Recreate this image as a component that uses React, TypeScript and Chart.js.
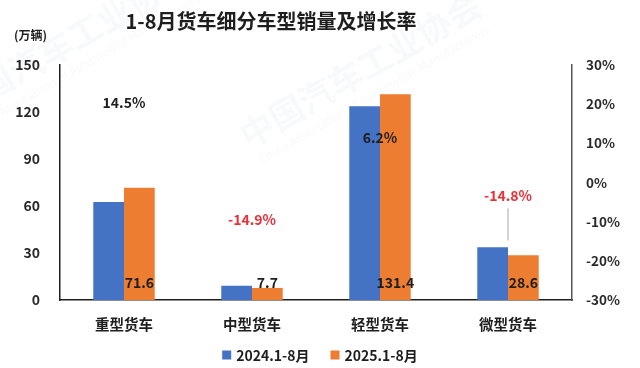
import React, { useEffect, useRef } from "react";
import { Chart, registerables } from "chart.js";

Chart.register(...registerables);

const categories = ["重型货车", "中型货车", "轻型货车", "微型货车"];
const series2024Label = "2024.1-8月";
const series2025Label = "2025.1-8月";
const sales2024 = [62.5, 9.1, 123.7, 33.6];
const sales2025 = [71.6, 7.7, 131.4, 28.6];
const growthRates = [14.5, -14.9, 6.2, -14.8];
const titleText = "1-8月货车细分车型销量及增长率";
const unitText = "(万辆)";

const FONT = '"Noto Sans CJK SC", "Liberation Sans", sans-serif';
const BLUE = "#4472C4";
const ORANGE = "#ED7D31";
const RED = "#E8303A";
const DARK = "#1e1e1e";

const overlayPlugin = {
  id: "overlay",
  beforeDraw(chart: any) {
    const ctx = chart.ctx;
    ctx.save();
    ctx.fillStyle = "#ffffff";
    ctx.fillRect(0, 0, chart.width, chart.height);
    // faint watermark
    ctx.fillStyle = "rgba(120,130,150,0.05)";
    ctx.textAlign = "center";
    ctx.textBaseline = "middle";
    const marks = [
      [70, 40],
      [360, 70],
    ];
    marks.forEach(([x, y]) => {
      ctx.save();
      ctx.translate(x, y);
      ctx.rotate(-Math.PI / 6);
      ctx.font = `bold 34px ${FONT}`;
      ctx.fillText("中国汽车工业协会", 0, 0);
      ctx.font = `12px ${FONT}`;
      ctx.fillText("China Association of Automobile Manufacturers", 0, 28);
      ctx.restore();
    });
    ctx.restore();
  },
  afterDraw(chart: any) {
    const ctx = chart.ctx;
    ctx.save();
    // title
    ctx.fillStyle = DARK;
    ctx.font = `bold 20px ${FONT}`;
    ctx.textAlign = "center";
    ctx.textBaseline = "middle";
    ctx.fillText(titleText, 271, 21);
    // unit
    ctx.font = `bold 12px ${FONT}`;
    ctx.textAlign = "left";
    ctx.fillText(unitText, 14, 35);

    // legend
    const items = [
      { label: series2024Label, color: BLUE },
      { label: series2025Label, color: ORANGE },
    ];
    ctx.font = `bold 14px ${FONT}`;
    const box = 9;
    const gapBoxText = 5;
    const gapItems = 21;
    const widths = items.map((it) => box + gapBoxText + ctx.measureText(it.label).width);
    const total = widths.reduce((a, b) => a + b, 0) + gapItems;
    let x = 320 - total / 2;
    const cy = 355;
    items.forEach((it, i) => {
      ctx.fillStyle = it.color;
      ctx.fillRect(x, cy - box / 2, box, box);
      ctx.fillStyle = DARK;
      ctx.textAlign = "left";
      ctx.textBaseline = "middle";
      ctx.fillText(it.label, x + box + gapBoxText, cy + 1);
      x += widths[i] + gapItems;
    });
    ctx.restore();
  },
  afterDatasetsDraw(chart: any) {
    const ctx = chart.ctx;
    const yScale = chart.scales.y;
    const zeroY = yScale.getPixelForValue(0);
    ctx.save();
    ctx.textAlign = "center";
    ctx.textBaseline = "middle";
    // value labels of 2025 bars (at base)
    ctx.font = `bold 14px ${FONT}`;
    ctx.fillStyle = DARK;
    const meta1 = chart.getDatasetMeta(1);
    meta1.data.forEach((bar: any, i: number) => {
      ctx.fillText(sales2025[i].toFixed(1), bar.x, zeroY - 17);
    });
    // growth labels above hidden line points
    const meta2 = chart.getDatasetMeta(2);
    const offsets = [23, 21, 21, 45];
    meta2.data.forEach((pt: any, i: number) => {
      const v = growthRates[i];
      const ly = pt.y - offsets[i];
      if (i === 3) {
        ctx.strokeStyle = "#a6a6a6";
        ctx.lineWidth = 1;
        ctx.beginPath();
        ctx.moveTo(pt.x, ly + 13);
        ctx.lineTo(pt.x, pt.y);
        ctx.stroke();
      }
      ctx.fillStyle = v < 0 ? RED : DARK;
      ctx.font = `bold 14px ${FONT}`;
      ctx.fillText(v.toFixed(1) + "%", pt.x, ly);
    });
    ctx.restore();
  },
};

export default function App() {
  const canvasRef = useRef<HTMLCanvasElement | null>(null);

  useEffect(() => {
    if (!canvasRef.current) return;
    const chart = new Chart(canvasRef.current, {
      type: "bar",
      data: {
        labels: categories,
        datasets: [
          {
            label: series2024Label,
            data: sales2024,
            backgroundColor: BLUE,
            yAxisID: "y",
            barPercentage: 1,
            categoryPercentage: 0.48,
            order: 2,
          },
          {
            label: series2025Label,
            data: sales2025,
            backgroundColor: ORANGE,
            yAxisID: "y",
            barPercentage: 1,
            categoryPercentage: 0.48,
            order: 2,
          },
          {
            type: "line",
            label: "增长率",
            data: growthRates,
            yAxisID: "y1",
            showLine: false,
            pointRadius: 0,
            pointHoverRadius: 0,
            borderColor: "transparent",
            backgroundColor: "transparent",
            order: 1,
          } as any,
        ],
      },
      options: {
        animation: false,
        responsive: true,
        maintainAspectRatio: false,
        layout: { padding: { top: 65, left: 0, right: 0, bottom: 0 } },
        plugins: {
          legend: { display: false },
          title: { display: false },
          tooltip: { enabled: false },
        },
        scales: {
          x: {
            grid: { display: false, drawTicks: false },
            border: { display: true, color: "#1e1e1e", width: 1.5 },
            ticks: {
              padding: 16,
              color: DARK,
              font: { family: FONT, size: 14.5, weight: "bold" },
            },
            afterFit: (s: any) => {
              s.height = 68;
            },
          },
          y: {
            position: "left",
            min: 0,
            max: 150,
            grid: { display: false, drawTicks: false },
            border: { display: true, color: "#1e1e1e", width: 1.5 },
            ticks: {
              stepSize: 30,
              padding: 20,
              color: "#2a2a2a",
              font: { family: FONT, size: 14, weight: "bold" },
            },
            afterFit: (s: any) => {
              s.width = 60;
            },
          },
          y1: {
            position: "right",
            min: -30,
            max: 30,
            grid: { display: false, drawTicks: false },
            border: { display: true, color: "#555555", width: 1.5 },
            ticks: {
              stepSize: 10,
              padding: 14,
              color: "#2a2a2a",
              font: { family: FONT, size: 13.5, weight: "bold" },
              callback: (v: any) => `${v}%`,
            },
            afterFit: (s: any) => {
              s.width = 68;
            },
          },
        },
      },
      plugins: [overlayPlugin],
    });
    return () => chart.destroy();
  }, []);

  return (
    <div style={{ position: "fixed", left: 0, top: 0, width: 640, height: 368 }}>
      <canvas ref={canvasRef} />
    </div>
  );
}
